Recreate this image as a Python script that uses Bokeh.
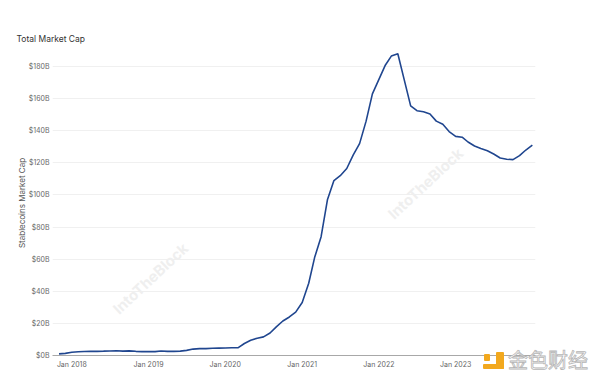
import pandas as pd
from bokeh.plotting import figure
from bokeh.models import FixedTicker, PrintfTickFormatter, Range1d, Label, Div
from bokeh.layouts import column
from bokeh.embed import file_html
from bokeh.resources import INLINE

# Monthly stablecoin market cap (billions USD), Nov 2017 .. Jan 2024
start_month = "2017-11-01"
market_cap = [
    1.0, 1.3,
    2.0, 2.3, 2.5, 2.6, 2.6, 2.7, 2.8, 3.0, 2.7, 2.9, 2.6, 2.4,
    2.5, 2.4, 2.8, 2.6, 2.6, 2.7, 3.2, 4.0, 4.3, 4.3, 4.5, 4.6,
    4.7, 4.8, 4.8, 7.5, 9.5, 10.8, 11.6, 14.0, 18.0, 21.5, 24.0, 27.0,
    33.0, 45.0, 61.0, 74.0, 97.0, 109.0, 112.0, 116.5, 125.0, 132.0, 146.0, 163.0,
    172.0, 181.0, 186.5, 188.0, 172.0, 155.5, 152.5, 151.8, 150.5, 146.0, 144.0, 139.5,
    136.5, 136.0, 133.0, 130.5, 129.0, 127.5, 125.5, 123.0, 122.3, 122.0, 124.5, 128.0,
    131.0,
]
dates = pd.date_range(start_month, periods=len(market_cap), freq="MS")

year_ticks = ["2018-01-01", "2019-01-01", "2020-01-01", "2021-01-01", "2022-01-01", "2023-01-01"]
year_labels = ["Jan 2018", "Jan 2019", "Jan 2020", "Jan 2021", "Jan 2022", "Jan 2023"]
y_ticks = [0, 20, 40, 60, 80, 100, 120, 140, 160, 180]

FONT = "Inter"

p = figure(width=592, height=373, x_axis_type="datetime",
           output_backend="svg", toolbar_location=None,
           min_border_left=52, min_border_right=57, min_border_top=50, min_border_bottom=18)
p.outline_line_color = None
p.background_fill_color = "white"

p.x_range = Range1d(pd.Timestamp("2017-10-01"), pd.Timestamp("2024-01-16"))
p.y_range = Range1d(0, 190)

p.line(dates, market_cap, line_color="#20468f", line_width=1.6)

# title
p.title.text = "Total Market Cap"
p.title.align = "left"
p.title.offset = -36
p.title.standoff = 14
p.title.text_font = FONT
p.title.text_font_size = "8.5px"
p.title.text_font_style = "normal"
p.title.text_color = "#333333"

tick_ms = [pd.Timestamp(t).value // 10**6 for t in year_ticks]
p.xaxis.ticker = FixedTicker(ticks=tick_ms)
p.xaxis.major_label_overrides = {t: l for t, l in zip(tick_ms, year_labels)}
p.xaxis.major_tick_line_color = None
p.xaxis.major_tick_out = 0
p.xaxis.major_tick_in = 0
p.xaxis.minor_tick_line_color = None
p.xaxis.minor_tick_out = 0
p.xaxis.axis_line_color = "#a8a8a8"
p.xaxis.major_label_text_font = FONT
p.xaxis.major_label_text_font_size = "7px"
p.xaxis.major_label_text_color = "#666666"
p.xaxis.major_label_standoff = 4

p.yaxis.ticker = FixedTicker(ticks=y_ticks)
p.yaxis.formatter = PrintfTickFormatter(format="$%dB")
p.yaxis.major_tick_line_color = None
p.yaxis.major_tick_out = 0
p.yaxis.major_tick_in = 0
p.yaxis.minor_tick_line_color = None
p.yaxis.minor_tick_out = 0
p.yaxis.axis_line_color = None
p.yaxis.major_label_text_font = FONT
p.yaxis.major_label_text_font_size = "7px"
p.yaxis.major_label_text_color = "#666666"
p.yaxis.major_label_standoff = 3
p.yaxis.axis_label = "Stablecoins Market Cap"
p.yaxis.axis_label_text_font = FONT
p.yaxis.axis_label_text_font_size = "8px"
p.yaxis.axis_label_text_font_style = "normal"
p.yaxis.axis_label_text_color = "#555555"
p.yaxis.axis_label_standoff = -1

p.xgrid.grid_line_color = None
p.ygrid.grid_line_color = "#f0f0f0"
p.ygrid.grid_line_width = 1

# faint watermarks
for wx, wy in [(98, 77), (373, 172)]:
    p.add_layout(Label(x=wx, y=wy, x_units="screen", y_units="screen", text="IntoTheBlock",
                       text_font=FONT, text_font_size="15px", text_font_style="bold",
                       text_color="#efefef", angle=0.75, text_align="center",
                       text_baseline="middle"))

# 金色财经 badge (overlapping the bottom-right corner)
badge_html = (
    '<div style="display:flex;align-items:center;background:transparent;">'
    '<div style="position:relative;width:21px;height:17px;">'
    '<div style="position:absolute;left:1px;top:2px;width:6px;height:7px;background:#f2a81d;border-radius:1px"></div>'
    '<div style="position:absolute;left:13px;top:0px;width:8px;height:17px;background:#f2a81d;border-radius:1px"></div>'
    '<div style="position:absolute;left:0px;top:12px;width:21px;height:5px;background:#f2a81d;border-radius:1px"></div>'
    '</div>'
    '<span style="font-family:\'Noto Sans CJK SC\';font-size:20px;line-height:20px;color:#ffffff;'
    '-webkit-text-stroke:0.8px #b5b5b5;margin-left:4px;letter-spacing:0px">金色财经</span>'
    '</div>'
)
badge = Div(text=badge_html, width=110, height=22, margin=(-23, 0, 0, 483),
            styles={"position": "relative", "z-index": "10"})

layout = column(p, badge, spacing=0)

open("out.html", "w").write(file_html(layout, INLINE))
